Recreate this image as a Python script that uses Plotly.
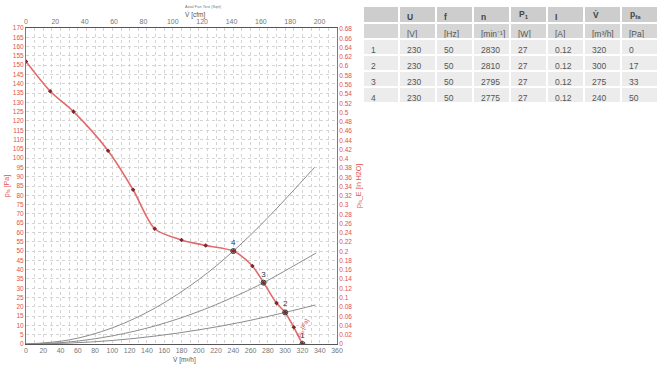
import plotly.graph_objects as go

# ---- data ----
fan_v = [0, 28, 55, 95, 124, 149, 180, 208, 240, 262, 275, 290, 300, 310, 320]
fan_p = [152, 136, 125, 104, 83, 62, 56, 53, 50, 42, 33, 22, 17, 9, 0]

sys4_v = [0, 50, 100, 150, 200, 240, 280, 334]
sys4_p = [0, 2.2, 8.7, 19.5, 34.7, 50, 68, 95]
sys3_v = [0, 50, 100, 150, 200, 250, 275, 336]
sys3_p = [0, 1.1, 4.4, 9.8, 17.5, 27.3, 33, 49]
sys2_v = [0, 50, 100, 150, 200, 250, 300, 335]
sys2_p = [0, 0.5, 1.9, 4.3, 7.6, 11.8, 17, 21]

op_id = ["1", "2", "3", "4"]
op_U = ["230", "230", "230", "230"]
op_f = ["50", "50", "50", "50"]
op_n = ["2830", "2810", "2795", "2775"]
op_P1 = ["27", "27", "27", "27"]
op_I = ["0.12", "0.12", "0.12", "0.12"]
op_V = [320, 300, 275, 240]
op_p = [0, 17, 33, 50]

# header symbols; those with sub/combining marks are drawn as annotations over the header cells
head_sym = ["", "U", "f", "n", "", "I", "", ""]
head_special = {4: "<b>P<sub>1</sub></b>", 6: "<b>V̇</b>", 7: "<b>p<sub>fa</sub></b>"}
head_unit = ["", "[V]", "[Hz]", "[min⁻¹]", "[W]", "[A]", "[m³/h]", "[Pa]"]

PA_PER_INH2O = 249.089
M3H_PER_CFM = 1.699

RED = "#e0504f"
GRID = "#d4d4d4"
FONT = "Liberation Sans"

W, H = 665, 369
ML, MR, MT, MB = 26, 7, 5, 25
PW, PH = W - ML - MR, H - MT - MB


def py(yscreen):
    return (H - MB - yscreen) / PH


def px(xscreen):
    return (xscreen - ML) / PW


fig = go.Figure()

for v, p in [(sys4_v, sys4_p), (sys3_v, sys3_p), (sys2_v, sys2_p)]:
    fig.add_trace(go.Scatter(x=v, y=p, mode="lines", line=dict(color="#8c8c8c", width=1, shape="spline"),
                             hoverinfo="skip", showlegend=False))

fig.add_trace(go.Scatter(x=fan_v, y=fan_p, mode="lines+markers",
                         line=dict(color="#e36a6a", width=1.6, shape="spline", smoothing=0.8),
                         marker=dict(color="#7a2a2a", size=3.5, symbol="diamond"),
                         showlegend=False))

fig.add_trace(go.Scatter(x=op_V, y=op_p, mode="markers+text", text=op_id, textposition="top center",
                         textfont=dict(family=FONT, size=8, color="#333"),
                         marker=dict(color="rgba(0,0,0,0)", size=5, line=dict(color="#333", width=1)),
                         showlegend=False))

# invisible traces to activate secondary axes
fig.add_trace(go.Scatter(x=[0], y=[0], xaxis="x2", yaxis="y", mode="markers", marker=dict(opacity=0),
                         showlegend=False, hoverinfo="skip"))
fig.add_trace(go.Scatter(x=[0], y=[0], xaxis="x", yaxis="y2", mode="markers", marker=dict(opacity=0),
                         showlegend=False, hoverinfo="skip"))

# table
TX0 = 363
TY0 = 6
HEADH = 17
ROWH = 16
COLW = [36, 37, 37, 37, 37, 37, 37, 37]
cols = [op_id, op_U, op_f, op_n, op_P1, op_I, [str(v) for v in op_V], [str(p) for p in op_p]]
cells_vals = [[u] + d for u, d in zip(head_unit, cols)]
fills = [["#d6d6d6"] + ["#ececec"] * 4 for _ in head_unit]
fig.add_trace(go.Table(
    domain=dict(x=[px(TX0), 1.0], y=[0.5, py(TY0)]),
    columnwidth=COLW,
    header=dict(values=head_sym, fill_color="#cdcdcd", line=dict(color="white", width=1.5),
                align="left", height=HEADH,
                font=dict(family=FONT, size=8.5, color="#444", weight="bold")),
    cells=dict(values=cells_vals, fill_color=fills, line=dict(color="white", width=1.5),
               align="left", height=ROWH, font=dict(family=FONT, size=8.5, color="#555")),
))

annots = [
    dict(text="V̇ [m³/h]", x=183, xref="x", y=py(360), yref="paper", yanchor="middle",
         showarrow=False, font=dict(size=6.5, color="#555")),
    dict(text="V̇ [cfm]", x=px(183), xref="paper", y=py(15),
         yref="paper", yanchor="middle", showarrow=False, font=dict(size=6.5, color="#555")),
    dict(text="Axial Fan Test (Sqrt)", x=px(183), xref="paper",
         y=py(6), yref="paper", yanchor="middle",
         showarrow=False, font=dict(size=4, color="#777")),
    dict(text="p<sub>fa</sub> [Pa]", x=321, y=9, xref="x", yref="y", textangle=-62, showarrow=False,
         font=dict(size=6, color=RED)),
]
for k, txt in head_special.items():
    xs = TX0 + sum(COLW[:k]) + 7
    annots.append(dict(text=txt, x=px(xs), xref="paper", xanchor="left",
                       y=py(TY0 + HEADH / 2), yref="paper", yanchor="middle", showarrow=False,
                       font=dict(family=FONT, size=8.5, color="#444")))

fig.update_layout(
    width=W, height=H,
    margin=dict(l=ML, r=MR, t=MT, b=MB),
    paper_bgcolor="white", plot_bgcolor="white",
    font=dict(family=FONT, size=7, color="#666"),
    xaxis=dict(domain=[0, px(337)], range=[0, 360], dtick=20, showgrid=True, gridcolor=GRID, griddash="dot",
               minor=dict(dtick=10, showgrid=True, gridcolor=GRID, griddash="dot"),
               showline=True, linecolor="#555", linewidth=1, zeroline=False, automargin=False,
               ticks="", tickfont=dict(size=7, color="#777"), anchor="y"),
    yaxis=dict(domain=[0, py(28)], range=[0, 170], dtick=5, showgrid=True, gridcolor=GRID, griddash="dot",
               showline=True, linecolor=RED, linewidth=1, zeroline=False, automargin=False,
               ticks="", tickfont=dict(size=6.5, color=RED), anchor="x",
               title=dict(text="p<sub>fa</sub> [Pa]", font=dict(size=7, color=RED), standoff=2)),
    xaxis2=dict(overlaying="x", side="top", range=[0, 360 / M3H_PER_CFM], dtick=20,
                showgrid=False, showline=True, linecolor="#555", linewidth=1, zeroline=False,
                automargin=False, ticks="", tickfont=dict(size=7, color="#777"), anchor="y"),
    yaxis2=dict(overlaying="y", side="right", range=[0, 170 / PA_PER_INH2O], dtick=0.02,
                showgrid=False, showline=True, linecolor=RED, linewidth=1, zeroline=False,
                automargin=False, ticks="", tickfont=dict(size=6.5, color=RED), anchor="x",
                title=dict(text="p<sub>fa</sub>_E [in H2O]", font=dict(size=7, color=RED), standoff=4)),
    annotations=annots,
)

fig.write_html("out.html", config={"displayModeBar": False},
               post_script="document.body.style.margin='0';")
